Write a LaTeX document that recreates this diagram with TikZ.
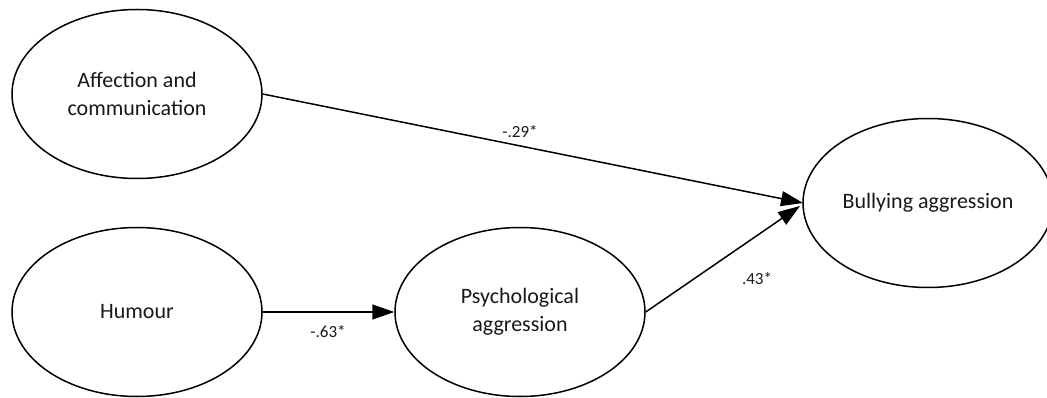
\documentclass[tikz,border=0pt]{standalone}
\usepackage{fontspec}
\setmainfont{Carlito}
\usetikzlibrary{shapes.geometric,arrows.meta}
\tikzset{
  latent/.style={ellipse,draw=black,line width=1.5pt,minimum width=250pt,minimum height=169pt,inner sep=0pt,align=center,font=\fontsize{22}{28}\selectfont,text=black!90},
  path/.style={line width=1.5pt,-{Triangle[length=22pt,width=15pt]}},
  coef/.style={font=\fontsize{17}{20}\selectfont,text=black!90}
}
\begin{document}
\begin{tikzpicture}[x=1pt,y=-1pt]
\useasboundingbox[fill=white] (0,0) rectangle (1047,398);
\node[latent] (aff) at (137,94) {Affection and\\communication};
\node[latent] (hum) at (137,312) {Humour};
\node[latent] (psy) at (520,312) {Psychological\\aggression};
\node[latent] (bul) at (928,203) {Bullying aggression};
\coordinate (tipA) at (803,203);
\coordinate (tipB) at (800,206);
\draw[path] (aff.east) -- (tipA);
\draw[path] (hum.east) -- (psy.west);
\draw[path] (psy.east) -- (tipB);
\node[coef] (c1) at (520,132) {-.29*};
\node[coef] (c2) at (328,332) {-.63*};
\node[coef] (c3) at (757,279) {.43*};
\end{tikzpicture}
\end{document}
